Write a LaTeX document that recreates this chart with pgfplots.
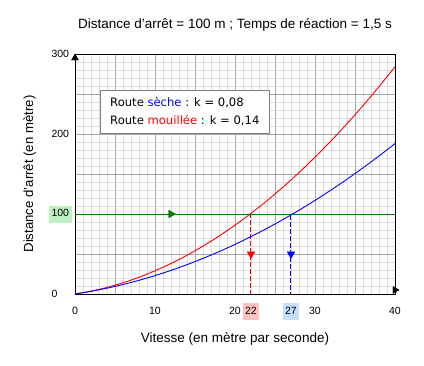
\documentclass[border=0pt]{standalone}
\usepackage{pgfplots}
\pgfplotsset{compat=1.18}
\usepackage{fontspec}
\setmainfont{Liberation Sans}
\newfontfamily\legfont{DejaVu Sans}
\definecolor{gmaj}{RGB}{165,165,165}
\definecolor{gmin}{RGB}{220,220,220}
\definecolor{dgreen}{RGB}{0,128,0}
\definecolor{bgreen}{RGB}{192,240,192}
\definecolor{bred}{RGB}{255,192,192}
\definecolor{bblue}{RGB}{200,222,255}
\setlength{\fboxsep}{2.5pt}
\begin{document}
\begin{tikzpicture}
\path[use as bounding box] (-75pt,-71pt) rectangle (349pt,294pt);
\begin{axis}[
  at={(0,0)}, anchor=south west,
  scale only axis, width=320pt, height=240pt,
  xmin=0, xmax=40, ymin=0, ymax=300,
  clip=false,
  axis line style={black, line width=0.9pt},
  xtick={0,5,...,40}, xticklabels={0,,10,,20,,30,,40},
  ytick={0,50,...,300}, yticklabels={0,,{\hspace*{-2.5pt}\colorbox{bgreen}{\strut 100}},,200,,300},
  minor x tick num=4, minor y tick num=4,
  grid=both,
  major grid style={gmaj, line width=0.8pt},
  minor grid style={gmin, line width=0.8pt},
  major tick length=0pt, minor tick length=0pt,
  extra x ticks={22,27},
  extra x tick labels={\colorbox{bred}{\strut 22},\colorbox{bblue}{\strut 27}},
  extra x tick style={grid=none, major tick length=0pt},
  /pgf/number format/assume math mode=true,
  tick label style={font=\fontsize{10.5}{12}\selectfont},
  xticklabel style={anchor=base, yshift=-20pt},
  yticklabel style={anchor=west, xshift=-27pt},
  title={Distance d'arrêt = 100 m ; Temps de réaction = 1,5 s},
  title style={at={(axis description cs:0.5,1.081)}, anchor=base, font=\fontsize{13.5}{15}\selectfont},
  xlabel={Vitesse (en mètre par seconde)},
  xlabel style={at={(axis description cs:0.5,-0.204)}, anchor=base, font=\fontsize{13.5}{15}\selectfont},
  ylabel={Distance d'arrêt (en mètre)},
  ylabel style={at={(axis description cs:-0.131,0.5)}, anchor=base, font=\fontsize{13.2}{15}\selectfont},
]
% green horizontal line
\addplot[dgreen, line width=0.9pt] coordinates {(0,100) (40,100)};
\addplot[only marks, dgreen, mark=triangle*, mark size=4.5pt, mark options={rotate=-90}] coordinates {(12,100)};
% dashed verticals
\addplot[red, line width=1pt, dash pattern=on 5pt off 2pt] coordinates {(22,100.76) (22,0)};
\addplot[blue, line width=1pt, dash pattern=on 5pt off 2pt] coordinates {(27,99) (27,0)};
\addplot[only marks, red, mark=triangle*, mark size=4.5pt, mark options={rotate=180}] coordinates {(22,50)};
\addplot[only marks, blue, mark=triangle*, mark size=4.5pt, mark options={rotate=180}] coordinates {(27,50)};
% curves
\addplot[red, line width=0.9pt, smooth] coordinates {
(0,0) (2,3.56) (4,8.24) (6,14.04) (8,20.96) (10,29) (12,38.16) (14,48.44)
(16,59.84) (18,72.36) (20,86) (22,100.76) (24,116.64) (26,133.64) (28,151.76)
(30,171) (32,191.36) (34,212.84) (36,235.44) (38,259.16) (40,284)};
\addplot[blue, line width=0.9pt, smooth] coordinates {
(0,0) (2,3.32) (4,7.28) (6,11.88) (8,17.12) (10,23) (12,29.52) (14,36.68)
(16,44.48) (18,52.92) (20,62) (22,71.72) (24,82.08) (26,93.08) (28,104.72)
(30,117) (32,129.92) (34,143.48) (36,157.68) (38,172.52) (40,188)};
% axis arrowheads
\addplot[only marks, black, mark=triangle*, mark size=4pt, mark options={yshift=-4pt}] coordinates {(0,300)};
\addplot[only marks, black, mark=triangle*, mark size=4pt, mark options={rotate=-90, xshift=-4pt}] coordinates {(40,0)};
% legend box
\node[draw=gray, line width=0.8pt, fill=white, anchor=north west, align=left,
  inner xsep=10pt, inner ysep=7pt, font=\legfont\fontsize{11.6}{18}\selectfont]
  at (axis cs:3.1,255) {Route \textcolor{blue}{sèche} : k = 0,08\\Route \textcolor{red}{mouillée} : k = 0,14};
\end{axis}
\end{tikzpicture}
\end{document}
